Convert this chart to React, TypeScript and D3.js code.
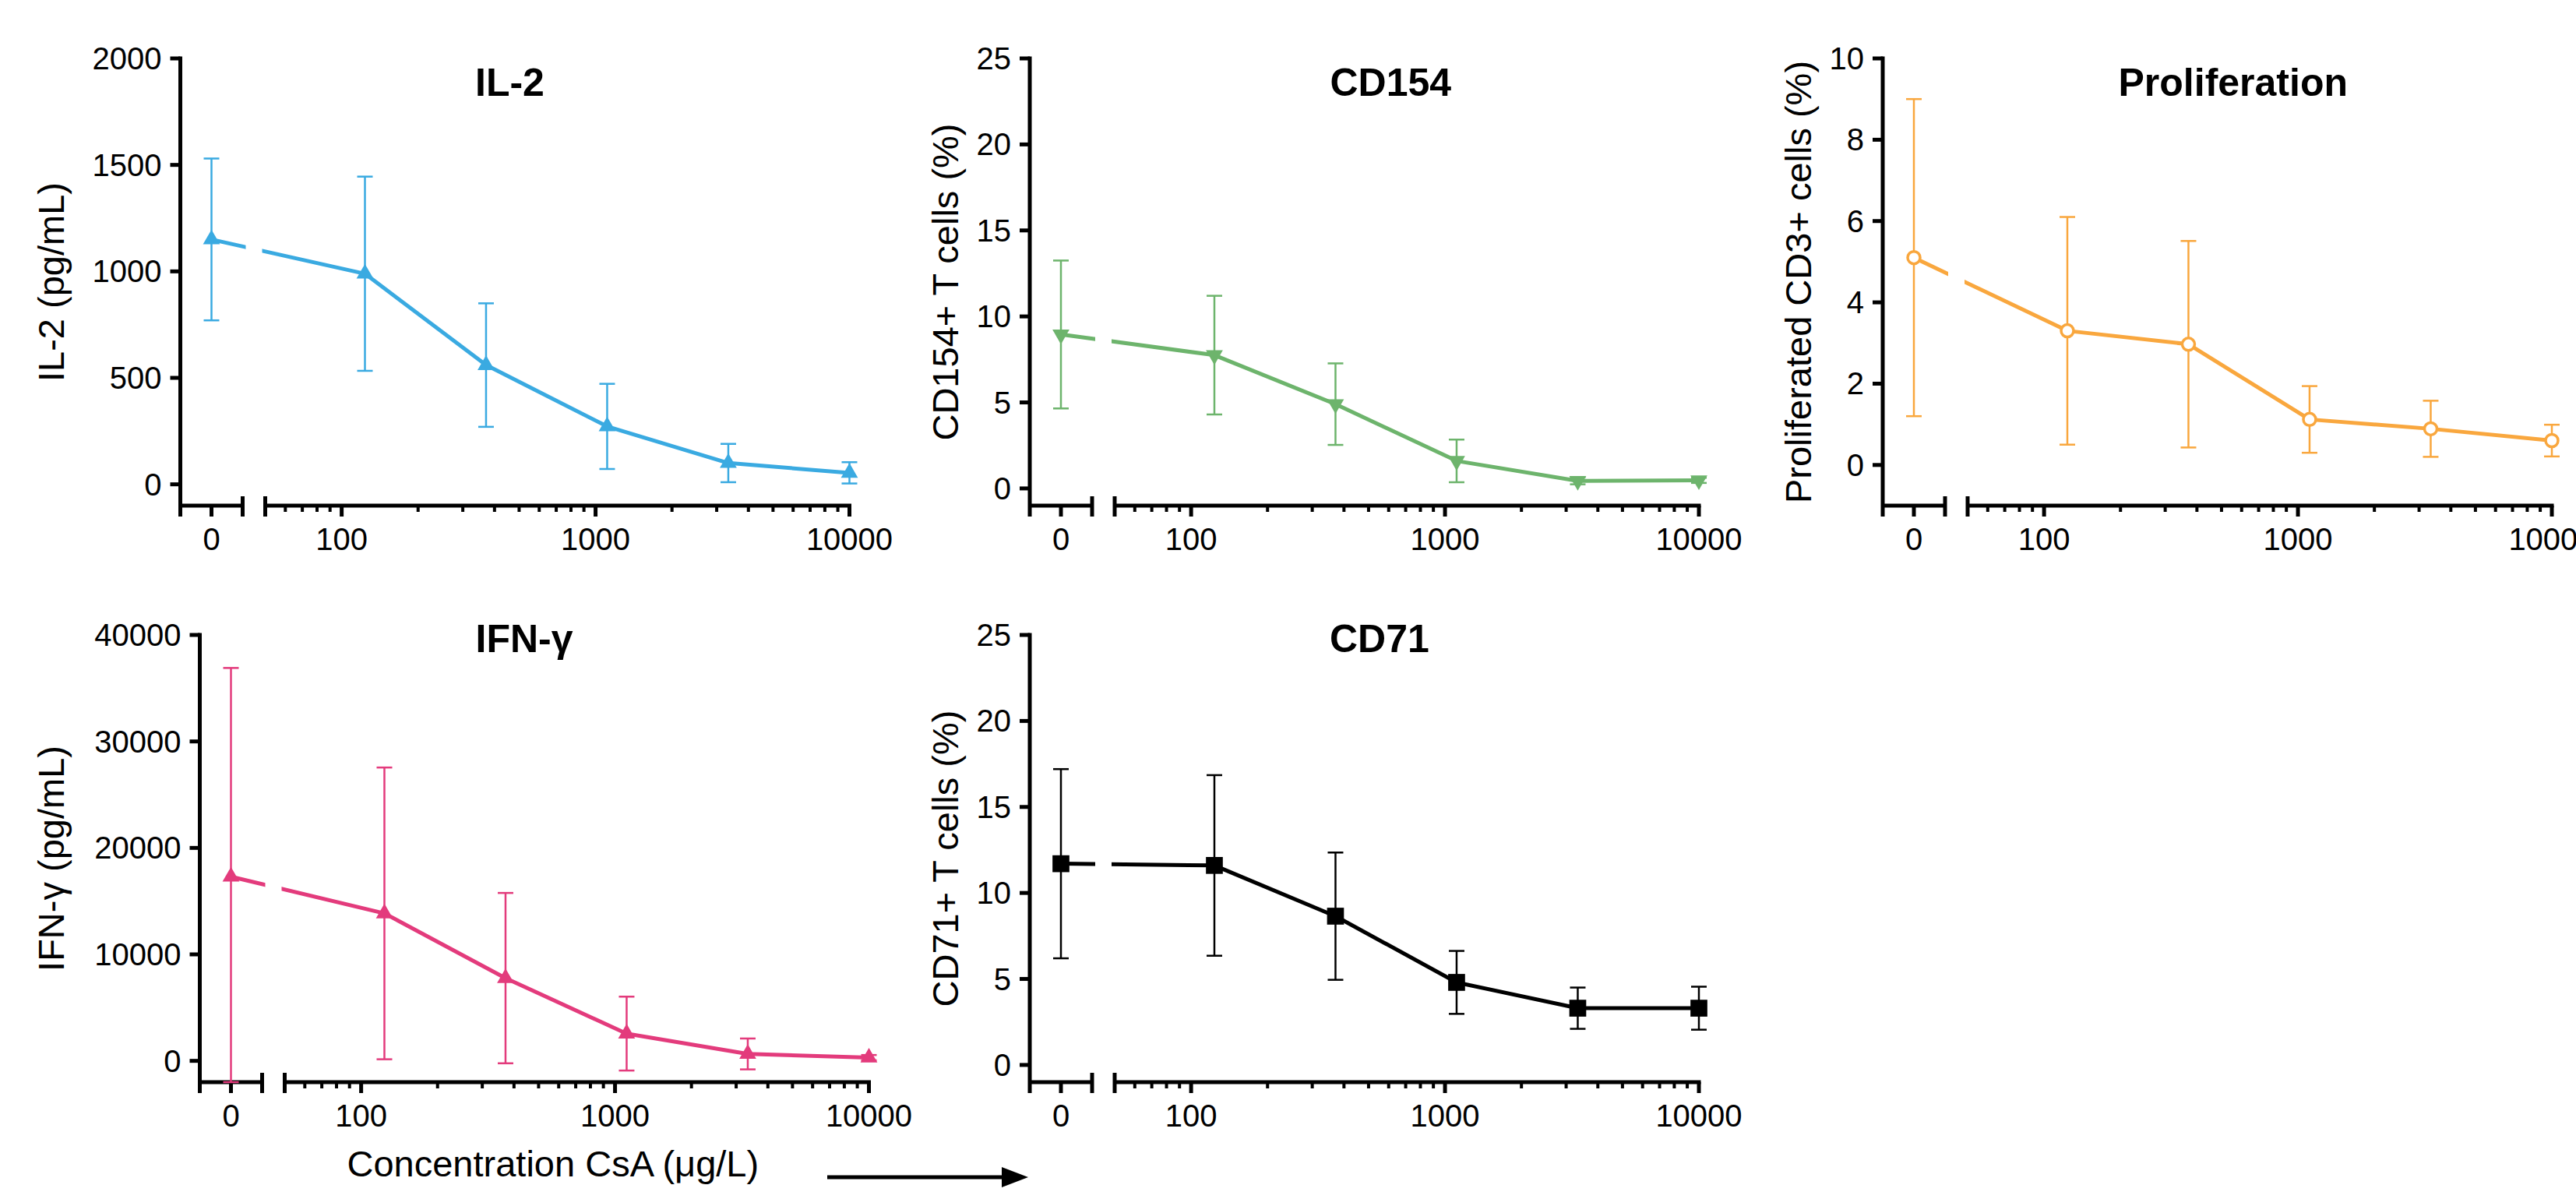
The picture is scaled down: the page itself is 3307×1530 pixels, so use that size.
import React from "react";
import * as d3 from "d3";

const WIDTH = 3307;
const HEIGHT = 1530;
const FONT = "'Liberation Sans', Arial, Helvetica, sans-serif";

// CsA concentrations (ug/L), 3-fold dilutions; 0 = no drug
const concentrations = [0, 123.5, 370.4, 1111, 3333, 10000];
const xTickValues = [100, 1000, 10000];
const xTickLabels = ["100", "1000", "10000"];

const il2Mean = [1150, 989, 560, 272, 100, 54];
const il2Sd = [380, 456, 290, 200, 90, 50];
const il2Ticks = [0, 500, 1000, 1500, 2000];

const cd154Mean = [8.95, 7.75, 4.9, 1.6, 0.44, 0.47];
const cd154Sd = [4.3, 3.45, 2.37, 1.24, 0.2, 0.15];
const cd154Ticks = [0, 5, 10, 15, 20, 25];

const prolifMean = [5.1, 3.3, 2.97, 1.12, 0.89, 0.6];
const prolifSd = [3.9, 2.8, 2.54, 0.82, 0.69, 0.39];
const prolifTicks = [0, 2, 4, 6, 8, 10];

const ifnMean = [17300, 13850, 7770, 2560, 650, 300];
const ifnSd = [19600, 13700, 8000, 3470, 1450, 250];
const ifnTicks = [0, 10000, 20000, 30000, 40000];

const cd71Mean = [11.7, 11.6, 8.65, 4.8, 3.3, 3.3];
const cd71Sd = [5.5, 5.25, 3.7, 1.83, 1.2, 1.25];
const cd71Ticks = [0, 5, 10, 15, 20, 25];

const AXIS_W = 5;

function Marker({ type, color }) {
  if (type === "circle") {
    return <circle r={8} fill="#fff" stroke={color} strokeWidth={3.5} />;
  }
  if (type === "square") {
    return <path d={d3.symbol().type(d3.symbolSquare).size(470)()} fill={color} />;
  }
  const tri = d3.symbol().type(d3.symbolTriangle).size(205)();
  return (
    <path
      d={tri}
      fill={color}
      transform={type === "down" ? "rotate(180)" : undefined}
    />
  );
}

function Panel({
  id,
  x0,
  top,
  bottom,
  yMin,
  ticks,
  mean,
  sd,
  color,
  marker,
  title,
  titleX,
  titleY,
  yLabel,
  yLabelX,
}) {
  const yMax = ticks[ticks.length - 1];
  const y = d3.scaleLinear().domain([yMin, yMax]).range([bottom, top]);
  // broken x axis: a short linear piece for 0, then log from 50
  const xZero = d3.scaleLinear().domain([-1, 1]).range([x0, x0 + 80]);
  const xLog = d3.scaleLog().domain([50, 10000]).range([x0 + 109, x0 + 859]);
  const xPos = (c) => (c === 0 ? xZero(0) : xLog(c));

  const pts = concentrations.map((c, i) => [xPos(c), y(mean[i])]);
  const linePath = d3.line()(pts);
  const logTicks = xLog.ticks().filter((t) => t > 50);
  const isMajor = (t) => Math.abs(Math.log10(t) - Math.round(Math.log10(t))) < 1e-6;

  const capHalf = 10;

  return (
    <g>
      <defs>
        <clipPath id={`gap-${id}`}>
          <rect x={0} y={0} width={x0 + 84} height={HEIGHT} />
          <rect x={x0 + 105} y={0} width={WIDTH} height={HEIGHT} />
        </clipPath>
      </defs>

      {/* title */}
      <text x={titleX} y={titleY} fontFamily={FONT} fontWeight="bold" fontSize={50}>
        {title}
      </text>

      {/* y axis label */}
      <text
        transform={`translate(${yLabelX},${(top + bottom) / 2}) rotate(-90)`}
        textAnchor="middle"
        fontFamily={FONT}
        fontSize={47}
      >
        {yLabel}
      </text>

      {/* y axis */}
      <line x1={x0} x2={x0} y1={y(yMax) - AXIS_W / 2} y2={bottom + 14} stroke="#000" strokeWidth={AXIS_W} />
      {ticks.map((t) => (
        <g key={t}>
          <line x1={x0 - 13} x2={x0} y1={y(t)} y2={y(t)} stroke="#000" strokeWidth={AXIS_W} />
          <text x={x0 - 24} y={y(t) + 14} textAnchor="end" fontFamily={FONT} fontSize={40}>
            {t}
          </text>
        </g>
      ))}

      {/* x axis, zero segment */}
      <line x1={x0} x2={x0 + 80} y1={bottom} y2={bottom} stroke="#000" strokeWidth={AXIS_W} />
      <line x1={xZero(0)} x2={xZero(0)} y1={bottom} y2={bottom + 14} stroke="#000" strokeWidth={AXIS_W} />
      <line x1={x0 + 80} x2={x0 + 80} y1={bottom - 12} y2={bottom + 14} stroke="#000" strokeWidth={AXIS_W} />
      <text x={xZero(0)} y={bottom + 57} textAnchor="middle" fontFamily={FONT} fontSize={40}>
        0
      </text>

      {/* x axis, log segment */}
      <line x1={x0 + 109} x2={x0 + 859 + AXIS_W / 2} y1={bottom} y2={bottom} stroke="#000" strokeWidth={AXIS_W} />
      <line x1={x0 + 109} x2={x0 + 109} y1={bottom - 12} y2={bottom + 14} stroke="#000" strokeWidth={AXIS_W} />
      {logTicks.map((t) => (
        <line
          key={t}
          x1={xLog(t)}
          x2={xLog(t)}
          y1={bottom}
          y2={bottom + (isMajor(t) ? 14 : 8)}
          stroke="#000"
          strokeWidth={isMajor(t) ? AXIS_W : 4}
        />
      ))}
      {xTickValues.map((v, i) => (
        <text key={v} x={xLog(v)} y={bottom + 57} textAnchor="middle" fontFamily={FONT} fontSize={40}>
          {xTickLabels[i]}
        </text>
      ))}

      {/* error bars (mean +/- SD) */}
      {concentrations.map((c, i) => {
        const cx = xPos(c);
        const hi = y(mean[i] + sd[i]);
        const lo = y(Math.max(mean[i] - sd[i], yMin));
        return (
          <g key={i} stroke={color} strokeWidth={2.5}>
            <line x1={cx} x2={cx} y1={hi} y2={lo} />
            <line x1={cx - capHalf} x2={cx + capHalf} y1={hi} y2={hi} />
            <line x1={cx - capHalf} x2={cx + capHalf} y1={lo} y2={lo} />
          </g>
        );
      })}

      {/* connecting line, interrupted at the axis break */}
      <path
        d={linePath}
        fill="none"
        stroke={color}
        strokeWidth={5}
        strokeLinejoin="round"
        clipPath={`url(#gap-${id})`}
      />

      {/* markers */}
      {pts.map(([px, py], i) => (
        <g key={i} transform={`translate(${px},${py})`}>
          <Marker type={marker} color={color} />
        </g>
      ))}
    </g>
  );
}

export default function App() {
  const rowTop = [75, 815];
  const rowBottom = [649, 1389];
  return (
    <svg
      width={WIDTH}
      height={HEIGHT}
      style={{ position: "absolute", left: 0, top: 0, background: "#fff" }}
    >
      <rect width={WIDTH} height={HEIGHT} fill="#fff" />
      <Panel
        id="il2"
        x0={231.5}
        top={rowTop[0]}
        bottom={rowBottom[0]}
        yMin={-100}
        ticks={il2Ticks}
        mean={il2Mean}
        sd={il2Sd}
        color="#3AAAE1"
        marker="up"
        title="IL-2"
        titleX={610}
        titleY={123}
        yLabel="IL-2 (pg/mL)"
        yLabelX={82}
      />
      <Panel
        id="cd154"
        x0={1322}
        top={rowTop[0]}
        bottom={rowBottom[0]}
        yMin={-1}
        ticks={cd154Ticks}
        mean={cd154Mean}
        sd={cd154Sd}
        color="#6DB46C"
        marker="down"
        title="CD154"
        titleX={1707.5}
        titleY={123}
        yLabel="CD154+ T cells (%)"
        yLabelX={1230}
      />
      <Panel
        id="prolif"
        x0={2417}
        top={rowTop[0]}
        bottom={rowBottom[0]}
        yMin={-1}
        ticks={prolifTicks}
        mean={prolifMean}
        sd={prolifSd}
        color="#F9A73E"
        marker="circle"
        title="Proliferation"
        titleX={2719.5}
        titleY={123}
        yLabel="Proliferated CD3+ cells (%)"
        yLabelX={2325}
      />
      <Panel
        id="ifn"
        x0={256.5}
        top={rowTop[1]}
        bottom={rowBottom[1]}
        yMin={-2000}
        ticks={ifnTicks}
        mean={ifnMean}
        sd={ifnSd}
        color="#E33B7C"
        marker="up"
        title="IFN-γ"
        titleX={610.5}
        titleY={837}
        yLabel="IFN-γ (pg/mL)"
        yLabelX={82}
      />
      <Panel
        id="cd71"
        x0={1322}
        top={rowTop[1]}
        bottom={rowBottom[1]}
        yMin={-1}
        ticks={cd71Ticks}
        mean={cd71Mean}
        sd={cd71Sd}
        color="#000"
        marker="square"
        title="CD71"
        titleX={1707}
        titleY={837}
        yLabel="CD71+ T cells (%)"
        yLabelX={1230}
      />

      {/* shared x axis title with arrow */}
      <text x={445.5} y={1510} fontFamily={FONT} fontSize={47}>
        Concentration CsA (μg/L)
      </text>
      <line x1={1062} x2={1292} y1={1511} y2={1511} stroke="#000" strokeWidth={5} />
      <path d="M1286,1498L1320,1511L1286,1524Z" fill="#000" />
    </svg>
  );
}
